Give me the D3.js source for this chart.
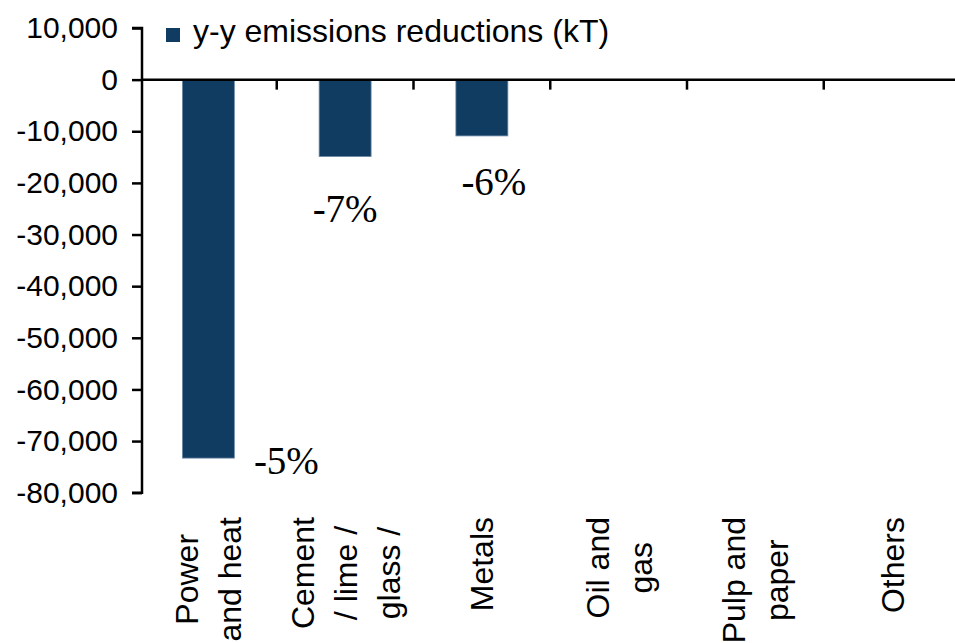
<!DOCTYPE html>
<html>
<head>
<meta charset="utf-8">
<script src="https://cdn.jsdelivr.net/npm/d3@7"></script>
<style>
  body { margin: 0; background: #fff; }
  svg { display: block; }
</style>
</head>
<body>
<svg width="955" height="643"></svg>
<script>
// data
var categories = ["Power and heat", "Cement / lime / glass /", "Metals", "Oil and gas", "Pulp and paper", "Others"]
var categoryLines = [["Power", "and heat"], ["Cement", "/ lime /", "glass /"], ["Metals"], ["Oil and", "gas"], ["Pulp and", "paper"], ["Others"]]
var reductions = [-73300, -14900, -10900, 0, 0, 0]
var pctLabels = ["-5%", "-7%", "-6%"]
var yTicks = [10000, 0, -10000, -20000, -30000, -40000, -50000, -60000, -70000, -80000]
var seriesName = "y-y emissions reductions (kT)"

// hand placed annotation offsets (from bar centre / bar end)
var pctOffsets = [[78, 16], [0, 65], [12, 59]]

var barColor = "#103c62"

var svg = d3.select("svg")

var y = d3.scaleLinear()
    .domain([-80000, 10000])
    .range([492.7, 28])

var x = d3.scaleBand()
    .domain(categories)
    .range([140, 140 + 6 * 136.75])
    .paddingInner(0.62)
    .paddingOuter(0.31)

// bars
svg.selectAll(".bar")
    .data(reductions)
    .enter()
    .append("rect")
    .attr("class", "bar")
    .attr("x", (d, i) => x(categories[i]))
    .attr("width", x.bandwidth())
    .attr("y", d => y(Math.max(0, d)))
    .attr("height", d => Math.abs(y(d) - y(0)))
    .attr("fill", barColor)
    .attr("stroke", "#6d8aa6")
    .attr("stroke-width", 0.8)

// y axis
var yAxis = svg.append("g")
    .attr("transform", "translate(142,0)")
    .call(d3.axisLeft(y)
        .tickValues(yTicks)
        .tickSize(10)
        .tickPadding(14)
        .tickFormat(d3.format(",")))
yAxis.select(".domain").attr("stroke", "#000").attr("stroke-width", 2.5)
    .attr("d", "M-10," + y(10000) + "H0V" + y(-80000) + "H-10")
yAxis.selectAll(".tick line").attr("stroke", "#000").attr("stroke-width", 2.5)
yAxis.selectAll(".tick text")
    .attr("fill", "#000")
    .style("font-family", "'Liberation Sans', Arial, sans-serif")
    .style("font-size", "30px")
yAxis.selectAll(".tick text").text(d => d3.format(",")(d).replace("−", "-"))

// zero line with category separators
var zero = svg.append("g")
zero.append("line")
    .attr("x1", 142).attr("x2", 955)
    .attr("y1", y(0)).attr("y2", y(0))
    .attr("stroke", "#000").attr("stroke-width", 2.5)
zero.selectAll(".sep")
    .data(categories.slice(1))
    .enter()
    .append("line")
    .attr("x1", d => x(d) - x.step() * x.paddingInner() / 2)
    .attr("x2", d => x(d) - x.step() * x.paddingInner() / 2)
    .attr("y1", y(0)).attr("y2", y(0) + 10)
    .attr("stroke", "#000").attr("stroke-width", 2.5)

// category labels, rotated
var labelTop = 517
var lineGap = 43
categoryLines.forEach((lines, i) => {
  var cx = x(categories[i]) + x.bandwidth() / 2
  var g = svg.append("g")
  var texts = lines.map((ln, j) => g.append("text")
      .attr("text-anchor", "middle")
      .attr("dy", "0.36em")
      .style("font-family", "'Liberation Sans', Arial, sans-serif")
      .style("font-size", "32px")
      .attr("fill", "#000")
      .text(ln))
  var maxLen = d3.max(texts, t => t.node().getComputedTextLength())
  var cy = labelTop + maxLen / 2
  texts.forEach((t, j) => {
    var lx = cx + (j - (lines.length - 1) / 2) * lineGap
    t.attr("transform", "translate(" + lx + "," + cy + ") rotate(-90)")
  })
})

// percentage annotations
svg.selectAll(".pct")
    .data(pctLabels)
    .enter()
    .append("text")
    .attr("class", "pct")
    .attr("text-anchor", "middle")
    .attr("x", (d, i) => x(categories[i]) + x.bandwidth() / 2 + pctOffsets[i][0])
    .attr("y", (d, i) => y(reductions[i]) + pctOffsets[i][1])
    .style("font-family", "'Liberation Serif', 'Times New Roman', serif")
    .style("font-size", "39px")
    .attr("fill", "#000")
    .text(d => d)

// legend
var legend = svg.append("g")
legend.append("rect")
    .attr("x", 166).attr("y", 28)
    .attr("width", 14).attr("height", 14)
    .attr("fill", barColor)
legend.append("text")
    .attr("x", 193).attr("y", 42)
    .style("font-family", "'Liberation Sans', Arial, sans-serif")
    .style("font-size", "32px")
    .attr("fill", "#000")
    .text(seriesName)
</script>
</body>
</html>
